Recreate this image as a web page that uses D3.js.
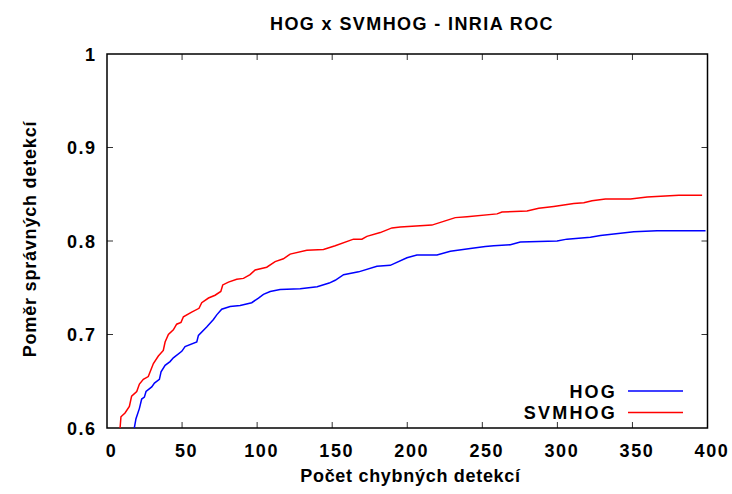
<!DOCTYPE html>
<html><head><meta charset="utf-8">
<script src="https://cdn.jsdelivr.net/npm/d3@7"></script>
<style>body{margin:0;background:#fff}svg{display:block}text{font-family:"Liberation Sans",Arial,sans-serif;fill:#000}</style>
</head><body><svg id="c" width="732" height="494"></svg>
<script>
const title = "HOG x SVMHOG - INRIA ROC";
const xLabel = "Počet chybných detekcí";
const yLabel = "Poměr správných detekcí";
const xTicks = [0,50,100,150,200,250,300,350,400];
const yTicks = [0.6,0.7,0.8,0.9,1];
const seriesNames = ["HOG","SVMHOG"];
const seriesColors = ["#0000ff","#ff0000"];
const hogX = [18.2,19.3,21.6,23.1,24.9,26,29.8,31.6,34.9,36,38.7,42,44.2,49.8,52,59.8,60.9,66.4,70.9,73.1,76.4,82,88.7,96.4,100.9,104.2,108.7,115.3,128.7,140,148,152,157.6,167.6,179.8,188.7,199.8,206.4,219.8,228.7,242,252,257.6,268.7,275.3,299.8,306.4,322,328.7,350.9,366.4,398.7];
const hogY = [0.6,0.61,0.621,0.631,0.633,0.639,0.644,0.648,0.652,0.66,0.667,0.671,0.675,0.682,0.687,0.692,0.699,0.708,0.716,0.721,0.727,0.73,0.731,0.734,0.739,0.743,0.746,0.748,0.749,0.751,0.755,0.758,0.764,0.767,0.773,0.774,0.782,0.785,0.785,0.789,0.792,0.794,0.795,0.796,0.799,0.8,0.802,0.804,0.806,0.81,0.811,0.811];
const svmX = [8.7,9.3,12,14.9,16.4,19.8,21.6,24.2,27.5,30.9,34.2,37.5,38.7,40.9,44.2,46.4,49.3,50.9,56.4,61.3,63.1,67.6,72,75.8,77.1,80.9,86.4,90.9,95.3,98.7,106.4,112,117.5,122,133.1,144.2,152,164.2,169.8,173.1,182,189.8,195.3,216.4,224.2,232,239.8,259.8,263.1,279.8,287.6,297.6,310.9,317.6,323.1,332,348.7,359.8,380.9,396.4];
const svmY = [0.6,0.612,0.616,0.623,0.634,0.639,0.647,0.652,0.655,0.669,0.677,0.683,0.692,0.7,0.705,0.711,0.713,0.719,0.724,0.728,0.734,0.739,0.742,0.746,0.753,0.756,0.759,0.76,0.764,0.769,0.772,0.778,0.781,0.786,0.79,0.791,0.795,0.802,0.802,0.805,0.809,0.814,0.815,0.817,0.821,0.825,0.826,0.829,0.831,0.832,0.835,0.837,0.84,0.841,0.843,0.845,0.845,0.847,0.849,0.849];

const svg = d3.select("#c");
const L=107, R=707.5, T=54, B=428;
const x = d3.scaleLinear().domain([0,400]).range([L,R]);
const y = d3.scaleLinear().domain([0.6,1]).range([B,T]);
const fs = 18;

// ticks (mirrored, inward)
const tk = 6;
const g = svg.append("g").attr("stroke","#333").attr("stroke-width",1);
xTicks.forEach(v=>{
  if(v===0||v===400) return;
  g.append("line").attr("x1",x(v)).attr("x2",x(v)).attr("y1",B).attr("y2",B-tk);
  g.append("line").attr("x1",x(v)).attr("x2",x(v)).attr("y1",T).attr("y2",T+tk);
});
yTicks.forEach(v=>{
  if(v===0.6||v===1) return;
  g.append("line").attr("x1",L).attr("x2",L+tk).attr("y1",y(v)).attr("y2",y(v));
  g.append("line").attr("x1",R).attr("x2",R-tk).attr("y1",y(v)).attr("y2",y(v));
});
svg.append("rect").attr("x",L).attr("y",T).attr("width",R-L).attr("height",B-T)
  .attr("fill","none").attr("stroke","#000").attr("stroke-width",1.5);

// tick labels
svg.selectAll(".xl").data(xTicks).join("text").attr("x",d=>x(d)+4.5).attr("y",457)
  .attr("text-anchor","middle").attr("font-size",fs).attr("font-weight","bold").attr("letter-spacing","1.6px").text(d=>d);
svg.selectAll(".yl").data(yTicks).join("text").attr("x",96.5).attr("y",d=>y(d)+6.5)
  .attr("text-anchor","end").attr("font-size",fs).attr("font-weight","bold").attr("letter-spacing","1.5px").text(d=>d);

// titles
svg.append("text").attr("x",412).attr("y",30).attr("text-anchor","middle").attr("font-size",fs).attr("font-weight","bold").attr("letter-spacing","1.4px").text(title);
svg.append("text").attr("x",410.5).attr("y",482).attr("text-anchor","middle").attr("font-size",fs).attr("font-weight","bold").attr("letter-spacing","0.7px").text(xLabel);
svg.append("text").attr("transform","translate(36,239) rotate(-90)").attr("text-anchor","middle").attr("font-size",fs).attr("font-weight","bold").attr("letter-spacing","0.8px").text(yLabel);

// curves
const line = d3.line().x(d=>x(d[0])).y(d=>y(d[1]));
svg.append("clipPath").attr("id","cp").append("rect").attr("x",L).attr("y",T).attr("width",R-L).attr("height",B-T);
const data = [d3.zip(hogX,hogY), d3.zip(svmX,svmY)];
data.forEach((d,i)=>{
  svg.append("path").attr("d",line(d)).attr("fill","none").attr("stroke",seriesColors[i])
    .attr("stroke-width",1.5).attr("clip-path","url(#cp)");
});

// legend
seriesNames.forEach((n,i)=>{
  const ly = 391 + i*21.5;
  svg.append("text").attr("x",617).attr("y",ly+6.5).attr("text-anchor","end").attr("font-size",fs).attr("font-weight","bold").attr("letter-spacing","2.2px").text(n);
  svg.append("line").attr("x1",628).attr("x2",683).attr("y1",ly).attr("y2",ly).attr("stroke",seriesColors[i]).attr("stroke-width",1.5);
});
</script></body></html>
